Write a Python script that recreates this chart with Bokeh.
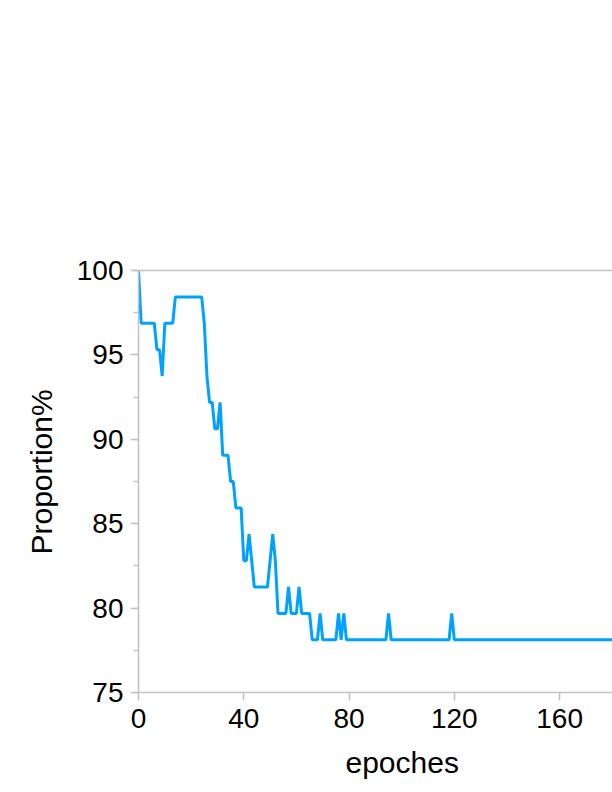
from bokeh.plotting import figure
from bokeh.models import Range1d, LinearAxis, SingleIntervalTicker, FixedTicker, ColumnDataSource, Title
from bokeh.embed import file_html
from bokeh.resources import INLINE

# ---- data ----
epochs = list(range(0, 181))
proportion = [
    100.0, 96.875, 96.875, 96.875, 96.875, 96.875, 96.875, 95.3125, 95.3125, 93.75,          # 0-9
    96.875, 96.875, 96.875, 96.875, 98.4375, 98.4375, 98.4375, 98.4375, 98.4375, 98.4375,    # 10-19
    98.4375, 98.4375, 98.4375, 98.4375, 98.4375, 96.875, 93.75, 92.1875, 92.1875, 90.625,    # 20-29
    90.625, 92.1875, 89.0625, 89.0625, 89.0625, 87.5, 87.5, 85.9375, 85.9375, 85.9375,       # 30-39
    82.8125, 82.8125, 84.375, 82.8125, 81.25, 81.25, 81.25, 81.25, 81.25, 81.25,             # 40-49
    82.8125, 84.375, 82.8125, 79.6875, 79.6875, 79.6875, 79.6875, 81.25, 79.6875, 79.6875,   # 50-59
    79.6875, 81.25, 79.6875, 79.6875, 79.6875, 79.6875, 78.125, 78.125, 78.125, 79.6875,     # 60-69
    78.125, 78.125, 78.125, 78.125, 78.125, 78.125, 79.6875, 78.125, 79.6875, 78.125,        # 70-79
    78.125, 78.125, 78.125, 78.125, 78.125, 78.125, 78.125, 78.125, 78.125, 78.125,          # 80-89
    78.125, 78.125, 78.125, 78.125, 78.125, 79.6875, 78.125, 78.125, 78.125, 78.125,         # 90-99
    78.125, 78.125, 78.125, 78.125, 78.125, 78.125, 78.125, 78.125, 78.125, 78.125,          # 100-109
    78.125, 78.125, 78.125, 78.125, 78.125, 78.125, 78.125, 78.125, 78.125, 79.6875,         # 110-119
    78.125, 78.125, 78.125, 78.125, 78.125, 78.125, 78.125, 78.125, 78.125, 78.125,          # 120-129
    78.125, 78.125, 78.125, 78.125, 78.125, 78.125, 78.125, 78.125, 78.125, 78.125,          # 130-139
    78.125, 78.125, 78.125, 78.125, 78.125, 78.125, 78.125, 78.125, 78.125, 78.125,          # 140-149
    78.125, 78.125, 78.125, 78.125, 78.125, 78.125, 78.125, 78.125, 78.125, 78.125,          # 150-159
    78.125, 78.125, 78.125, 78.125, 78.125, 78.125, 78.125, 78.125, 78.125, 78.125,          # 160-169
    78.125, 78.125, 78.125, 78.125, 78.125, 78.125, 78.125, 78.125, 78.125, 78.125,          # 170-179
    78.125,                                                                                  # 180
]
x_title = "epoches"
y_title = "Proportion%"

FONT = "Liberation Sans"
AXIS_COLOR = "#C4C4C4"
LINE_COLOR = "#00A2FF"

src = ColumnDataSource(dict(x=epochs, y=proportion))

p = figure(width=612, height=792, output_backend="svg", toolbar_location=None,
           x_range=Range1d(0, 180.1), y_range=Range1d(75, 100),
           min_border_left=138, min_border_top=270, min_border_bottom=99, min_border_right=0,
           outline_line_color=None, background_fill_color="white", border_fill_color="white")
p.grid.visible = False

p.line("x", "y", source=src, line_color=LINE_COLOR, line_width=3)

# x axis
xa = p.xaxis[0]
xa.ticker = SingleIntervalTicker(interval=40, num_minor_ticks=0)
# y axis
ya = p.yaxis[0]
ya.ticker = SingleIntervalTicker(interval=5, num_minor_ticks=2)

for ax in (xa, ya):
    ax.axis_line_color = AXIS_COLOR
    ax.axis_line_width = 1.6
    ax.major_tick_line_color = AXIS_COLOR
    ax.major_tick_line_width = 1.6
    ax.major_tick_in = 0
    ax.major_tick_out = 8
    ax.minor_tick_line_color = AXIS_COLOR
    ax.minor_tick_line_width = 1.6
    ax.minor_tick_in = 0
    ax.minor_tick_out = 5
    ax.major_label_text_font = FONT
    ax.major_label_text_font_size = "28px"
    ax.major_label_text_color = "black"

xa.minor_tick_line_color = None
xa.major_label_standoff = 8
ya.major_label_standoff = 7

# axis titles as side titles so they can be placed like the original's
p.add_layout(Title(text=x_title, align="left", offset=207, standoff=27,
                   text_font=FONT, text_font_size="30px", text_font_style="normal",
                   text_color="black"), "below")
p.add_layout(Title(text=y_title, align="left", offset=138, standoff=31,
                   text_font=FONT, text_font_size="30px", text_font_style="normal",
                   text_color="black"), "left")

# top border line (no ticks, no labels)
top = LinearAxis(ticker=FixedTicker(ticks=[]), major_tick_line_color=None,
                 minor_tick_line_color=None, axis_line_color=AXIS_COLOR, axis_line_width=1.6)
p.add_layout(top, "above")

open("out.html", "w").write(file_html(p, INLINE))
